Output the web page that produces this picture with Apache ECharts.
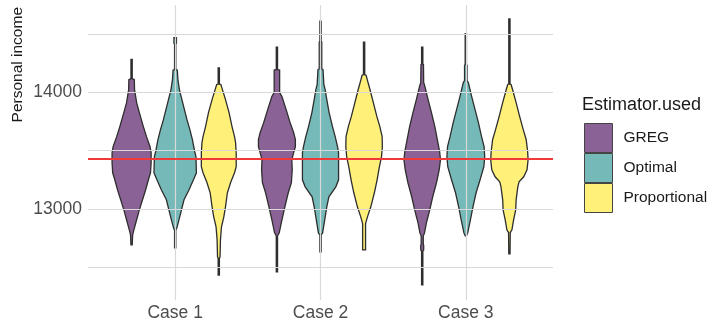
<!DOCTYPE html>
<html><head><meta charset="utf-8">
<script src="https://cdn.jsdelivr.net/npm/echarts@6/dist/echarts.min.js"></script>
<style>html,body{margin:0;padding:0;background:#fff}#c{width:713px;height:329px}</style>
</head><body><div id="c"></div>
<script>
const cases = ['Case 1', 'Case 2', 'Case 3'];
const estimators = ['GREG', 'Optimal', 'Proportional'];
const yTickLabels = [13000, 14000];
const yGridValues = [12500, 13000, 13500, 14000, 14500];
const referenceValue = 13431;

// violin profiles: income levels (top to bottom) and relative density (half-width)
const gregCase1Income = [14280,14117,14108,14023,13911,13826,13706,13620,13534,13483,13397,13311,13251,13166,13080,12994,12909,12823,12780,12695];
const gregCase1Density = [0.03,0.03,0.13,0.14,0.24,0.37,0.56,0.71,0.88,0.93,0.93,0.90,0.80,0.67,0.52,0.37,0.24,0.11,0.05,0.03];
const optimalCase1Income = [14466,14420,14410,14194,14190,14108,14023,13937,13851,13766,13680,13594,13491,13449,13311,13251,13166,13080,12994,12909,12840,12820,12669];
const optimalCase1Density = [0.06,0.06,0.03,0.03,0.10,0.13,0.20,0.32,0.44,0.56,0.70,0.82,0.93,0.99,1.01,0.87,0.66,0.42,0.30,0.18,0.08,0.03,0.03];
const propCase1Income = [14209,14070,14066,14048,13937,13826,13706,13620,13569,13483,13363,13311,13226,13140,13020,12934,12849,12737,12592,12580,12437];
const propCase1Density = [0.03,0.03,0.10,0.13,0.32,0.49,0.63,0.75,0.80,0.83,0.83,0.75,0.56,0.41,0.32,0.24,0.13,0.08,0.06,0.03,0.03];

const gregCase2Income = [14385,14194,14190,13997,13963,13851,13740,13654,13594,13534,13483,13423,13337,13226,13140,13020,12909,12797,12770,12463];
const gregCase2Density = [0.03,0.03,0.13,0.13,0.24,0.44,0.63,0.80,0.88,0.88,0.80,0.71,0.73,0.69,0.54,0.38,0.24,0.11,0.03,0.03];
const optimalCase2Income = [14608,14437,14430,14200,14194,14066,14023,13937,13826,13706,13620,13534,13483,13251,13191,13106,13020,12909,12797,12780,12635];
const optimalCase2Density = [0.03,0.03,0.06,0.06,0.12,0.16,0.22,0.30,0.41,0.57,0.70,0.81,0.86,0.86,0.73,0.40,0.30,0.20,0.10,0.03,0.03];
const propCase2Income = [14428,14150,14143,14108,14023,13911,13791,13706,13620,13534,13449,13363,13251,13140,13020,12934,12883,12870,12652];
const propCase2Density = [0.03,0.03,0.10,0.15,0.28,0.44,0.61,0.75,0.86,0.87,0.83,0.73,0.62,0.49,0.32,0.16,0.08,0.07,0.07];

const gregCase3Income = [14385,14240,14237,14083,14066,14048,13937,13826,13706,13594,13491,13423,13337,13226,13106,12994,12883,12797,12770,12700,12690,12650,12640,12352];
const gregCase3Density = [0.03,0.03,0.06,0.07,0.10,0.13,0.28,0.44,0.60,0.72,0.83,0.87,0.81,0.68,0.50,0.36,0.20,0.11,0.05,0.05,0.07,0.07,0.03,0.03];
const optimalCase3Income = [14500,14237,14230,14100,14083,13963,13851,13740,13620,13534,13449,13363,13251,13140,13020,12909,12797,12772];
const optimalCase3Density = [0.03,0.03,0.06,0.06,0.12,0.28,0.44,0.60,0.75,0.87,0.90,0.86,0.68,0.49,0.34,0.22,0.09,0.03];
const propCase3Income = [14628,14070,14066,14023,13911,13791,13680,13594,13491,13423,13337,13277,13234,13191,13080,12994,12909,12823,12800,12617];
const propCase3Density = [0.03,0.03,0.08,0.15,0.32,0.49,0.66,0.80,0.87,0.89,0.84,0.68,0.46,0.40,0.32,0.30,0.20,0.12,0.04,0.03];

const profiles = [
  [[gregCase1Income, gregCase1Density], [gregCase2Income, gregCase2Density], [gregCase3Income, gregCase3Density]],
  [[optimalCase1Income, optimalCase1Density], [optimalCase2Income, optimalCase2Density], [optimalCase3Income, optimalCase3Density]],
  [[propCase1Income, propCase1Density], [propCase2Income, propCase2Density], [propCase3Income, propCase3Density]]
];

const fills = ['rgba(68,1,84,0.62)', 'rgba(33,144,140,0.62)', 'rgba(253,231,37,0.62)'];
const dodge = [-0.3, 0, 0.3];
const halfWidthPerDensity = 0.1445;
const FONT = '"Liberation Sans", Arial, sans-serif';

function makeRender(s) {
  return function (params, api) {
    const c = params.dataIndex;
    const center = api.value(0) + dodge[s];
    const inc = profiles[s][c][0], den = profiles[s][c][1];
    const left = [], right = [];
    for (let i = 0; i < inc.length; i++) {
      const w = den[i] * halfWidthPerDensity;
      left.push(api.coord([center - w, inc[i]]));
      right.push(api.coord([center + w, inc[i]]));
    }
    const pts = left.concat(right.reverse());
    return {
      type: 'polygon',
      shape: { points: pts },
      style: { fill: fills[s], stroke: '#2e2e2e', lineWidth: 1.3, lineJoin: 'miter' }
    };
  };
}

const violinSeries = estimators.map((name, s) => ({
  name: name,
  type: 'custom',
  z: 3,
  renderItem: makeRender(s),
  itemStyle: { color: fills[s], borderColor: '#333333', borderWidth: 1 },
  data: cases.map((_, c) => [c + 1, profiles[s][c][0][0]]),
  silent: true
}));

const gridStyle = { type: 'solid', color: '#d9d9d9', width: 1.2 };

const chart = echarts.init(document.getElementById('c'), null, { renderer: 'canvas' });
chart.setOption({
  animation: false,
  backgroundColor: '#ffffff',
  grid: { left: 88, right: 160, top: 5, bottom: 29, containLabel: false },
  title: {
    text: 'Estimator.used', left: 582, top: 96, padding: 0,
    textStyle: { fontSize: 18, fontWeight: 'normal', color: '#1a1a1a', fontFamily: FONT }
  },
  legend: {
    data: estimators.map((n, s) => ({ name: n, itemStyle: { color: fills[s], borderColor: '#444444', borderWidth: 1 } })),
    orient: 'vertical', left: 584, top: 123, padding: 0,
    itemWidth: 28, itemHeight: 29, itemGap: 0, icon: 'rect', selectedMode: false,
    textStyle: { fontSize: 15.5, color: '#1a1a1a', fontFamily: FONT, padding: [4, 0, 0, 6] }
  },
  xAxis: {
    type: 'value', min: 0.4, max: 3.6,
    axisLine: { show: false }, axisTick: { show: false }, splitLine: { show: false },
    axisLabel: {
      customValues: [1, 2, 3],
      formatter: v => cases[Math.round(v) - 1] || '',
      fontSize: 17.5, color: '#4d4d4d', fontFamily: FONT, margin: 4
    }
  },
  yAxis: {
    type: 'value', min: 12223, max: 14746,
    axisLine: { show: false }, axisTick: { show: false }, splitLine: { show: false },
    axisLabel: { customValues: yTickLabels, formatter: v => String(v), fontSize: 17.5, color: '#4d4d4d', fontFamily: FONT, margin: 6 }
  },
  graphic: [{
    type: 'text', x: 18, y: 7, rotation: Math.PI / 2,
    style: { text: 'Personal income', align: 'right', verticalAlign: 'middle', fill: '#1a1a1a', font: '15.5px ' + FONT }
  }],
  series: [
    {
      type: 'line', data: [], z: 0, silent: true,
      markLine: {
        silent: true, symbol: ['none', 'none'], label: { show: false }, animation: false,
        lineStyle: gridStyle,
        data: yGridValues.map(v => ({ yAxis: v })).concat([1, 2, 3].map(v => ({ xAxis: v })))
      }
    },
    ...violinSeries,
    {
      type: 'line', data: [], z: 10, silent: true,
      markLine: {
        silent: true, symbol: ['none', 'none'], label: { show: false }, animation: false,
        lineStyle: { type: 'solid', color: '#f03a3a', width: 2 },
        data: [{ yAxis: referenceValue }]
      }
    }
  ]
});
</script>
</body></html>
